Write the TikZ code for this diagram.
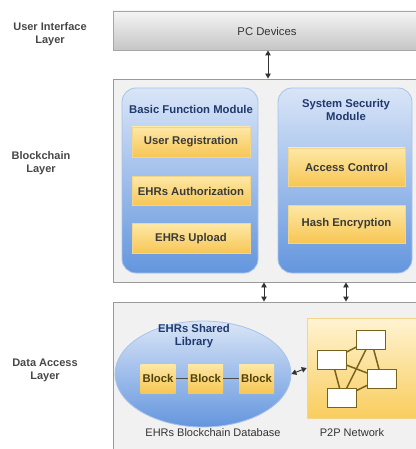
\documentclass[tikz,border=0pt]{standalone}
\usepackage{fontspec}
\setmainfont{Liberation Sans}
\usetikzlibrary{arrows.meta,shapes.geometric,calc}
\definecolor{bluetop}{HTML}{D9E5F7}
\definecolor{bluebot}{HTML}{6496DE}
\definecolor{blueline}{HTML}{A8C2EA}
\definecolor{yeltop}{HTML}{FDE8A6}
\definecolor{yelbot}{HTML}{F7C654}
\definecolor{yelline}{HTML}{F3D58A}
\definecolor{p2ptop}{HTML}{FFF3D2}
\definecolor{p2pbot}{HTML}{F9CD5E}
\definecolor{layerfill}{HTML}{F1F1F1}
\definecolor{layerline}{HTML}{9A9A9A}
\definecolor{netline}{HTML}{76621E}
\definecolor{titleblue}{HTML}{203A6E}
\definecolor{txt}{HTML}{3A3A3A}
\definecolor{blocktxt}{HTML}{4E4210}
\begin{document}
\begin{tikzpicture}[x=1pt,y=1pt,
  every node/.style={font=\fontsize{11.3}{13}\selectfont\bfseries, text=txt},
  layerbox/.style={rectangle, inner sep=0pt, fill=layerfill, draw=layerline, line width=0.9pt},
  modbox/.style={rectangle, rounded corners=14pt, inner sep=0pt, top color=bluetop, bottom color=bluebot, draw=blueline, line width=0.8pt},
  yelbox/.style={rectangle, inner sep=0pt, top color=yeltop, bottom color=yelbot, draw=yelline, line width=0.6pt},
  blockbox/.style={rectangle, inner sep=0pt, top color=yeltop, bottom color=yelbot, minimum width=35, minimum height=29, text=blocktxt},
  netbox/.style={rectangle, inner sep=0pt, fill=white, draw=netline, line width=1pt, minimum width=29, minimum height=19},
  netedge/.style={draw=netline, line width=1.5pt},
  dblarrow/.style={{Triangle[length=5pt,width=5.5pt]}-{Triangle[length=5pt,width=5.5pt]}, line width=0.9pt, draw=black!80},
  sidelabel/.style={align=center, text=black!72, font=\fontsize{11}{13}\selectfont\bfseries}
]
\useasboundingbox (0,0) rectangle (415,-449);

% side labels
\node[sidelabel] (l1) at (50,-34) {User Interface\\Layer};
\node[sidelabel] (l2) at (41,-163) {Blockchain\\Layer};
\node[sidelabel] (l3) at (45,-370) {Data Access\\Layer};

% user interface layer
\node[rectangle, inner sep=0pt, top color=gray!8, bottom color=gray!45, draw=gray!70, line width=0.9pt,
      minimum width=307, minimum height=39] (pc) at (266.5,-30.5) {};
\node[font=\fontsize{11.3}{13}\selectfont, text=black!80] (pct) at (267,-31) {PC Devices};

% blockchain layer
\node[layerbox, minimum width=307, minimum height=203] (bl) at (266.5,-180.5) {};
\node[modbox, minimum width=136, minimum height=185] (bfm) at (190,-180.5) {};
\node[modbox, minimum width=134, minimum height=185] (ssm) at (345,-180.5) {};
\node[text=titleblue] (bfmt) at (191,-109) {Basic Function Module};
\node[text=titleblue, align=center] (ssmt) at (346,-110) {System Security\\Module};
\node[yelbox, minimum width=118, minimum height=30] (ur) at (191,-142) {User Registration};
\node[yelbox, minimum width=118, minimum height=29] (au) at (191,-191) {EHRs Authorization};
\node[yelbox, minimum width=118, minimum height=30] (up) at (191,-238.5) {EHRs Upload};
\node[yelbox, minimum width=117, minimum height=38] (ac) at (346.5,-167) {Access Control};
\node[yelbox, minimum width=117, minimum height=38] (he) at (346.5,-224) {Hash Encryption};

% data access layer
\node[layerbox, minimum width=307, minimum height=160] (db) at (266.5,-382) {};
\node[ellipse, inner sep=0pt, top color=bluetop, bottom color=bluebot, draw=blueline, line width=0.8pt,
      minimum width=176, minimum height=106] (lib) at (203,-374) {};
\node[text=titleblue, align=center] (libt) at (194,-336) {EHRs Shared\\Library};
\node[blockbox] (b1) at (158,-378.5) {Block};
\node[blockbox] (b2) at (205.5,-378.5) {Block};
\node[blockbox] (b3) at (256.5,-378.5) {Block};
\draw[line width=0.8pt, black!70] (b1) -- (b2);
\draw[line width=0.8pt, black!70] (b2) -- (b3);

\node[rectangle, inner sep=0pt, top color=p2ptop, bottom color=p2pbot, draw=yelline, line width=0.6pt,
      minimum width=113, minimum height=100] (p2p) at (363.5,-368) {};
\coordinate (c1) at (371,-339.5);
\coordinate (c2) at (332,-359.5);
\coordinate (c3) at (381.5,-378.5);
\coordinate (c4) at (342,-397.5);
\draw[netedge] (c2) -- (c1);
\draw[netedge] (c2) -- (c4);
\draw[netedge] (c2) -- (c3);
\draw[netedge] (c1) -- (c4);
\draw[netedge] (c1) -- (c3);
\draw[netedge] (c4) -- (c3);
\node[netbox] (r1) at (c1) {};
\node[netbox] (r2) at (c2) {};
\node[netbox] (r3) at (c3) {};
\node[netbox] (r4) at (c4) {};

\node[font=\fontsize{11}{13}\selectfont, text=black!80] (dbt) at (213,-433) {EHRs Blockchain Database};
\node[font=\fontsize{11}{13}\selectfont, text=black!80] (p2pt) at (352,-433) {P2P Network};

% connectors
\coordinate (ax0) at (268,0);
\coordinate (ax1) at (264,0);
\coordinate (ax2) at (346,0);
\draw[dblarrow] (pc.south -| ax0) -- (bl.north -| ax0);
\draw[dblarrow] (bl.south -| ax1) -- (db.north -| ax1);
\draw[dblarrow] (bl.south -| ax2) -- (db.north -| ax2);
\draw[dblarrow] (lib.east) -- (p2p.west);
\end{tikzpicture}
\end{document}
